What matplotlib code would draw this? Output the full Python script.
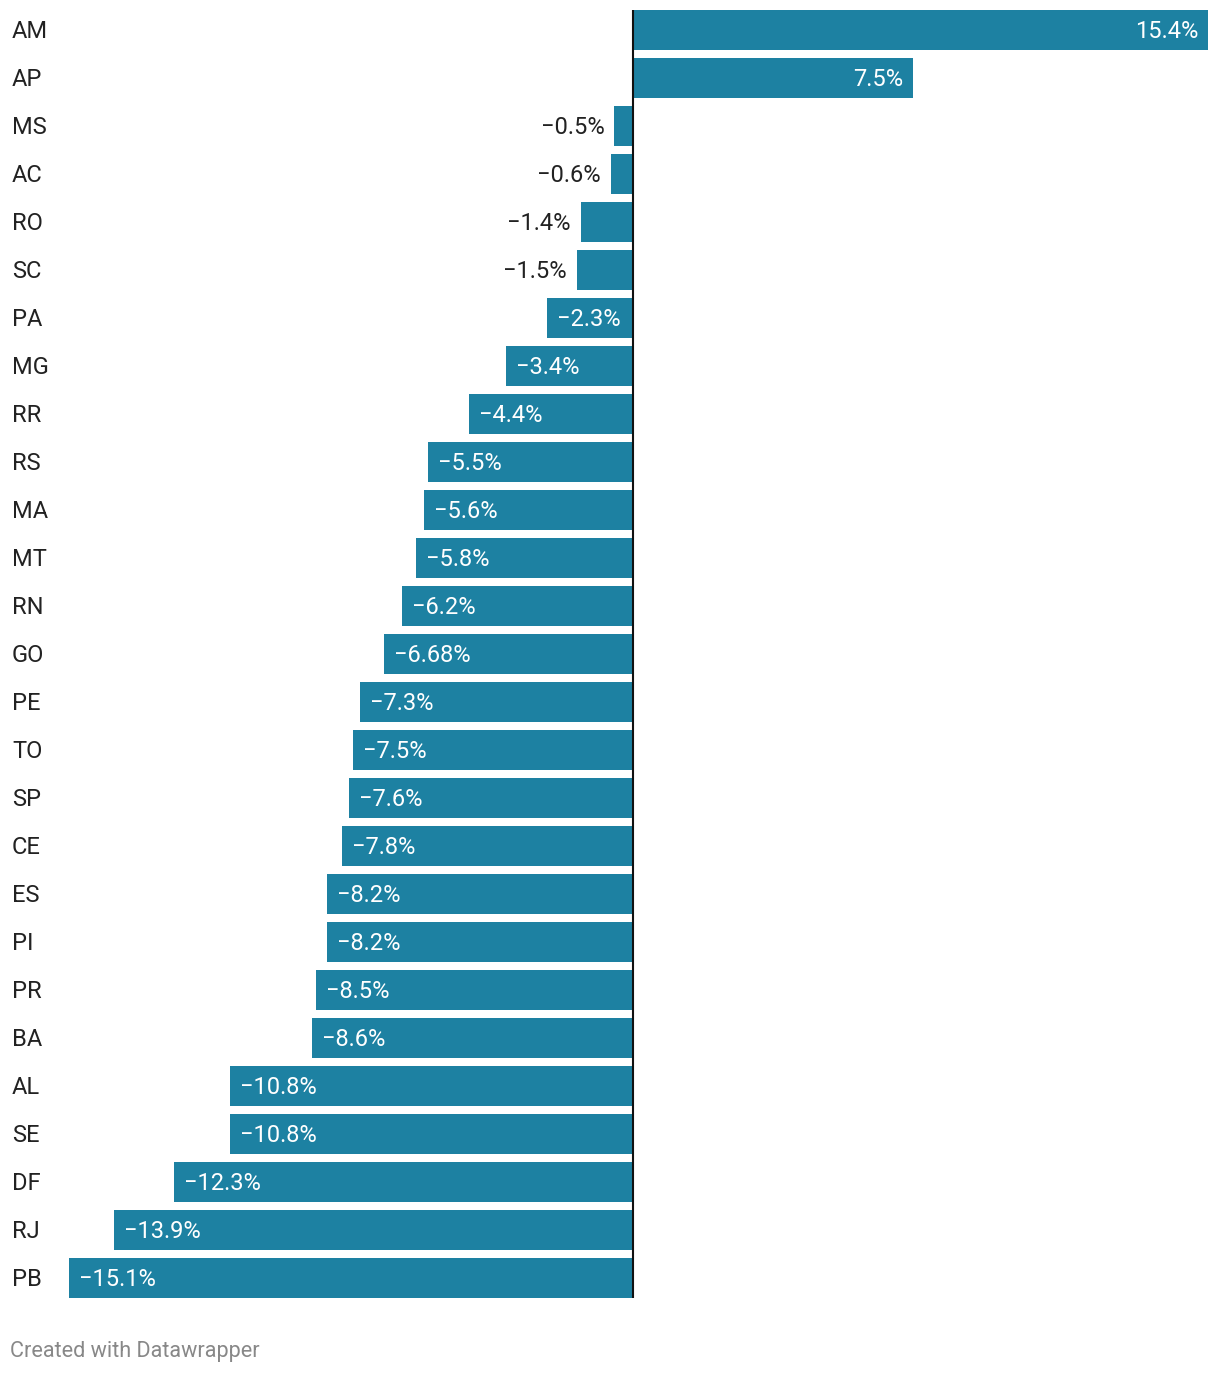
import matplotlib.pyplot as plt
from matplotlib.transforms import blended_transform_factory

plt.rcParams['font.family'] = ['Roboto', 'DejaVu Sans']

# Data
states = ['AM', 'AP', 'MS', 'AC', 'RO', 'SC', 'PA', 'MG', 'RR', 'RS', 'MA', 'MT', 'RN', 'GO',
          'PE', 'TO', 'SP', 'CE', 'ES', 'PI', 'PR', 'BA', 'AL', 'SE', 'DF', 'RJ', 'PB']
values = [15.4, 7.5, -0.5, -0.6, -1.4, -1.5, -2.3, -3.4, -4.4, -5.5, -5.6, -5.8, -6.2, -6.68,
          -7.3, -7.5, -7.6, -7.8, -8.2, -8.2, -8.5, -8.6, -10.8, -10.8, -12.3, -13.9, -15.1]

bar_color = '#1d81a2'
text_dark = '#222222'
W, H = 1220, 1374
zero_px = 633
px_per_unit = 575 / 15.4
row0_px, row_step = 30, 48

fig = plt.figure(figsize=(W / 100, H / 100), dpi=100)
ax = fig.add_axes([0, 0, 1, 1])
ax.set_xlim(-zero_px / px_per_unit, (W - zero_px) / px_per_unit)
ax.set_ylim((H - row0_px) / row_step, -row0_px / row_step)
ax.axis('off')

ypos = list(range(len(states)))
ax.barh(ypos, values, height=40 / 48, color=bar_color, zorder=2)
ax.plot([0, 0], [-20 / 48, len(states) - 1 + 20 / 48], color='#111111', lw=1.5, zorder=3,
        solid_capstyle='butt')

fs = 17
pad = 10 / px_per_unit
dy = 2 / row_step  # nudge text down a touch
for y, v in zip(ypos, values):
    label = f"{abs(v):g}%"
    if v >= 0:
        ax.text(v - pad, y + dy, label, ha='right', va='center', color='white', fontsize=fs, zorder=4)
    elif abs(v) < 2:
        ax.text(v - pad, y + dy, '\u2212' + label, ha='right', va='center', color=text_dark, fontsize=fs, zorder=4)
    else:
        ax.text(v + pad, y + dy, '\u2212' + label, ha='left', va='center', color='white', fontsize=fs, zorder=4)

trans = blended_transform_factory(fig.transFigure, ax.transData)
for y, s in zip(ypos, states):
    ax.text(12 / W, y + dy, s, transform=trans, ha='left', va='center', color=text_dark, fontsize=fs)

fig.text(10 / W, 1 - 1352 / H, 'Created with Datawrapper', ha='left', va='center',
         color='#888888', fontsize=15.6)

fig.savefig('out.png', dpi=100, facecolor='white')
